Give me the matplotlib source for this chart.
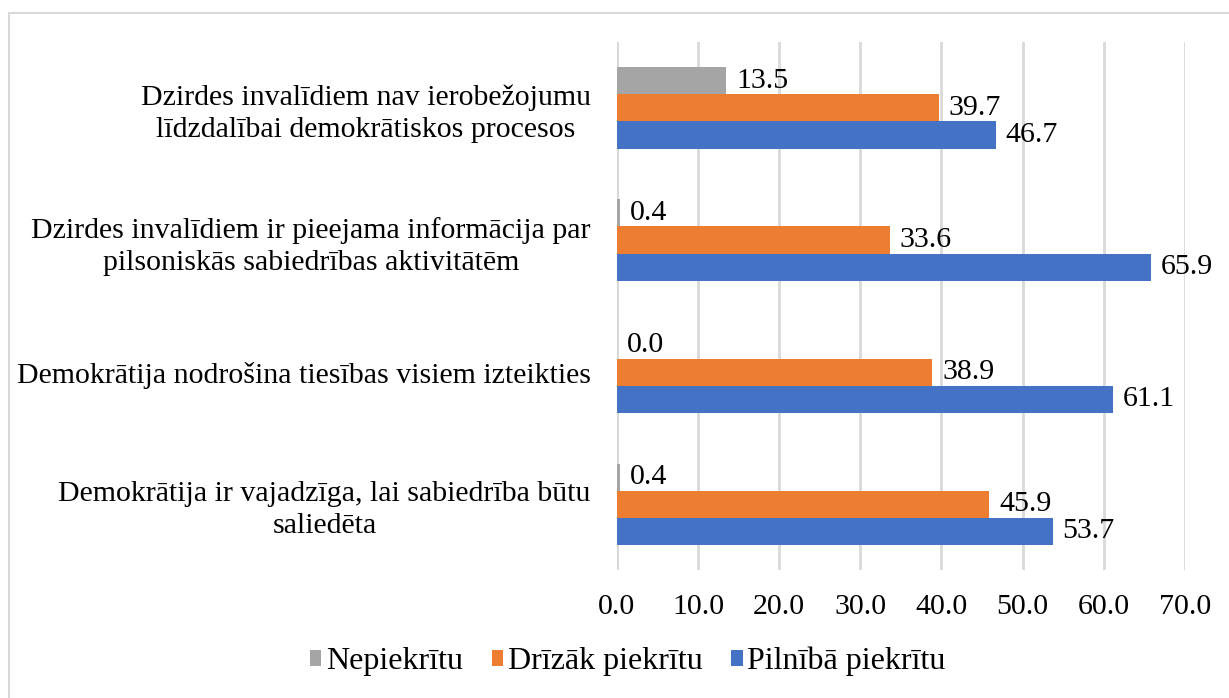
import matplotlib as mpl
import matplotlib.pyplot as plt
import numpy as np
from matplotlib.patches import Patch, Rectangle

mpl.rcParams['font.family'] = ['Liberation Serif', 'DejaVu Serif']

# kategorijas no apakšas uz augšu (kā Excel)
categories = [
    'Demokrātija ir vajadzīga, lai sabiedrība būtu\nsaliedēta',
    'Demokrātija nodrošina tiesības visiem izteikties',
    'Dzirdes invalīdiem ir pieejama informācija par\npilsoniskās sabiedrības aktivitātēm',
    'Dzirdes invalīdiem nav ierobežojumu\nlīdzdalībai demokrātiskos procesos',
]
series_names = ['Nepiekrītu', 'Drīzāk piekrītu', 'Pilnībā piekrītu']
nepiekritu = [0.4, 0.0, 0.4, 13.5]
drizak = [45.9, 38.9, 33.6, 39.7]
pilniba = [53.7, 61.1, 65.9, 46.7]
x_ticks = [0, 10, 20, 30, 40, 50, 60, 70]

colors = ['#A5A5A5', '#ED7D31', '#4472C4']

fig = plt.figure(figsize=(12.29, 6.98), dpi=100)
ax = fig.add_axes([0.502, 0.183, 0.462, 0.757])

y = np.arange(len(categories))
h = 0.205
offsets = [h, 0, -h]
for vals, off, col in zip([nepiekritu, drizak, pilniba], offsets, colors):
    bars = ax.barh(y + off, vals, height=h, color=col, zorder=3)
    for b, v in zip(bars, vals):
        ax.annotate(f'{v:.1f}', (b.get_width(), b.get_y() + b.get_height() / 2),
                    xytext=(7, 0), textcoords='offset points',
                    ha='left', va='center', fontsize=21.5, zorder=4)

ax.set_xlim(0, 70)
ax.set_ylim(-0.5, len(categories) - 0.5)
ax.set_xticks(x_ticks)
ax.set_xticklabels([f'{t:.1f}' for t in x_ticks], fontsize=21.5)
ax.set_yticks(y)
ax.set_yticklabels(categories, fontsize=21.5, multialignment='center', linespacing=1.3)
ax.tick_params(axis='both', length=0)
ax.tick_params(axis='x', pad=17)
ax.tick_params(axis='y', pad=19)
ax.grid(axis='x', color='#D9D9D9', linewidth=2, zorder=0)
for s in ax.spines.values():
    s.set_visible(False)
ax.axvline(0, color='#D9D9D9', linewidth=2, zorder=1)

handles = [Patch(facecolor=c) for c in colors]
fig.legend(handles, series_names, loc='center', bbox_to_anchor=(0.511, 0.052),
           ncol=3, frameon=False, fontsize=23, handlelength=0.35, handleheight=0.35,
           handletextpad=0.15, columnspacing=0.9)

# ramja fragments (augšā un kreisajā pusē)
fig.add_artist(Rectangle((9 / 1229, -0.1), 1.2, 1 - 13 / 698 + 0.1,
                         transform=fig.transFigure, fill=False,
                         edgecolor='#D9D9D9', linewidth=1.5))

fig.savefig('out.png', dpi=100)
